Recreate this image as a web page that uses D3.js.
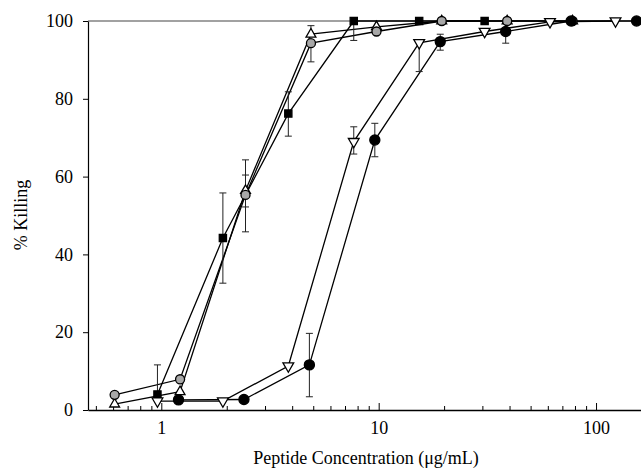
<!DOCTYPE html>
<html>
<head>
<meta charset="utf-8">
<script src="https://cdn.jsdelivr.net/npm/d3@7"></script>
<style>
  html, body { margin: 0; padding: 0; background: #fff; }
  svg { display: block; font-family: "Liberation Serif", "Times New Roman", serif; }
</style>
</head>
<body>
<div id="chart"></div>
<script>
// values: concentration (ug/mL), % killing, error bar extents
const yTicks = [0, 20, 40, 60, 80, 100];
const xMajorTicks = [1, 10, 100];

const squareConc = [0.96, 1.92, 3.84, 7.68, 15.36, 30.72];
const squareKill = [4, 44.2, 76.2, 100, 100, 100];
const squareErrUp = [7.6, 11.6, 5.6, 0, 0, 0];
const squareErrDown = [0, 11.6, 5.8, 5, 0, 0];

const triUpConc = [0.61, 1.22, 2.44, 4.88, 9.77, 19.5, 39, 78];
const triUpKill = [1.5, 4.7, 56.4, 96.6, 98.5, 100, 100, 100];
const triUpErrUp = [0, 0, 7.9, 2.2, 0, 0, 0, 0];
const triUpErrDown = [0, 0, 10.6, 0, 0, 0, 0, 0];

const greyConc = [0.61, 1.22, 2.44, 4.88, 9.77, 19.5, 39, 78];
const greyKill = [3.9, 7.9, 55.3, 94.3, 97.3, 100, 100, 100];
const greyErrUp = [0, 0, 5.1, 0, 0, 0, 0, 0];
const greyErrDown = [0, 0, 3.1, 4.8, 0, 0, 0, 0];

const triDownConc = [0.96, 1.92, 3.84, 7.68, 15.36, 30.72, 61.4, 122.9];
const triDownKill = [2.3, 2.3, 11.3, 69, 94.4, 97.3, 99.8, 100];
const triDownErrUp = [0, 0, 0, 3.8, 0, 0, 0, 0];
const triDownErrDown = [0, 0, 0, 3.2, 7.4, 0, 0, 0];

const dotConc = [1.2, 2.4, 4.8, 9.6, 19.2, 38.4, 76.8, 153.6];
const dotKill = [2.6, 2.7, 11.6, 69.4, 94.7, 97.3, 100, 100];
const dotErrUp = [0, 0, 8.1, 4.3, 1.9, 0, 0, 0];
const dotErrDown = [0, 0, 8.2, 4.3, 2.2, 3, 0, 0];

function makeSeries(conc, kill, up, down) {
    return conc.map((c, i) => ({ c: c, k: kill[i], up: up[i], down: down[i] }));
}

const series = [
    { name: 'square', data: makeSeries(squareConc, squareKill, squareErrUp, squareErrDown),
      symbol: d3.symbolSquare, size: 52, fill: '#000', rotate: 0 },
    { name: 'triUp', data: makeSeries(triUpConc, triUpKill, triUpErrUp, triUpErrDown),
      symbol: d3.symbolTriangle, size: 42, fill: '#fff', rotate: 0 },
    { name: 'grey', data: makeSeries(greyConc, greyKill, greyErrUp, greyErrDown),
      symbol: d3.symbolCircle, size: 64, fill: '#a8a8a8', rotate: 0 },
    { name: 'triDown', data: makeSeries(triDownConc, triDownKill, triDownErrUp, triDownErrDown),
      symbol: d3.symbolTriangle, size: 50, fill: '#fff', rotate: 180 },
    { name: 'dot', data: makeSeries(dotConc, dotKill, dotErrUp, dotErrDown),
      symbol: d3.symbolCircle, size: 80, fill: '#000', rotate: 0 }
];

const width = 641, height = 469;
const margin = { left: 88, right: 641, top: 21, bottom: 410 };
const fontSize = 18;

const svg = d3.select('#chart').append('svg')
    .attr('width', width)
    .attr('height', height);

const x = d3.scaleLog().domain([0.46, 161]).range([margin.left, margin.right]);
const y = d3.scaleLinear().domain([0, 100]).range([margin.bottom, margin.top]);

// top frame line
svg.append('line')
    .attr('x1', margin.left).attr('x2', margin.right)
    .attr('y1', y(100)).attr('y2', y(100))
    .attr('stroke', '#444').attr('stroke-width', 1.2);

// minor x ticks
const minorTicks = [];
[0.1, 1, 10, 100].forEach(dec => {
    for (let m = 2; m <= 9; m++) {
        const v = dec * m;
        if (v > 0.46 && v < 161) minorTicks.push(v);
    }
});

const xMinor = svg.append('g')
    .attr('transform', `translate(0,${margin.bottom})`)
    .call(d3.axisBottom(x).tickValues(minorTicks).tickSize(-4).tickFormat(''));
xMinor.select('.domain').remove();
xMinor.selectAll('line').attr('stroke', '#000');

const xAxis = svg.append('g')
    .attr('transform', `translate(0,${margin.bottom})`)
    .call(d3.axisBottom(x).tickValues(xMajorTicks).tickSize(-7).tickSizeOuter(0)
        .tickPadding(11).tickFormat(d3.format('d')));
xAxis.select('.domain').attr('stroke-width', 1.3);
xAxis.selectAll('text').attr('font-size', fontSize).attr('fill', '#000')
    .attr('font-family', '"Liberation Serif", serif');

const yAxis = svg.append('g')
    .attr('transform', `translate(${margin.left},0)`)
    .call(d3.axisLeft(y).tickValues(yTicks).tickSize(5).tickSizeOuter(0).tickPadding(10));
yAxis.select('.domain').attr('stroke-width', 1.2);
yAxis.selectAll('text').attr('font-size', fontSize).attr('fill', '#000')
    .attr('font-family', '"Liberation Serif", serif');

// axis titles
svg.append('text')
    .attr('x', 366).attr('y', 464)
    .attr('text-anchor', 'middle')
    .attr('font-size', fontSize)
    .text('Peptide Concentration (μg/mL)');

svg.append('text')
    .attr('transform', 'translate(27,215) rotate(-90)')
    .attr('text-anchor', 'middle')
    .attr('font-size', fontSize)
    .text('% Killing');

const line = d3.line().x(d => x(d.c)).y(d => y(d.k));

// connecting lines
svg.append('g').selectAll('path')
    .data(series)
    .join('path')
    .attr('d', s => line(s.data))
    .attr('fill', 'none')
    .attr('stroke', '#000')
    .attr('stroke-width', 1.3);

// error bars
const errData = [];
series.forEach(s => s.data.forEach(d => {
    if (d.up > 0 || d.down > 0) errData.push(d);
}));

const errG = svg.append('g').attr('stroke', '#222').attr('stroke-width', 1);
errData.forEach(d => {
    const cx = x(d.c);
    errG.append('line')
        .attr('x1', cx).attr('x2', cx)
        .attr('y1', y(d.k + d.up)).attr('y2', y(d.k - d.down));
    if (d.up > 0) {
        errG.append('line')
            .attr('x1', cx - 3.5).attr('x2', cx + 3.5)
            .attr('y1', y(d.k + d.up)).attr('y2', y(d.k + d.up));
    }
    if (d.down > 0) {
        errG.append('line')
            .attr('x1', cx - 3.5).attr('x2', cx + 3.5)
            .attr('y1', y(d.k - d.down)).attr('y2', y(d.k - d.down));
    }
});

// markers
series.forEach(s => {
    svg.append('g').selectAll('path')
        .data(s.data)
        .join('path')
        .attr('d', d3.symbol().type(s.symbol).size(s.size))
        .attr('transform', d => `translate(${x(d.c)},${y(d.k)}) rotate(${s.rotate})`)
        .attr('fill', s.fill)
        .attr('stroke', '#000')
        .attr('stroke-width', 1.3);
});
</script>
</body>
</html>
